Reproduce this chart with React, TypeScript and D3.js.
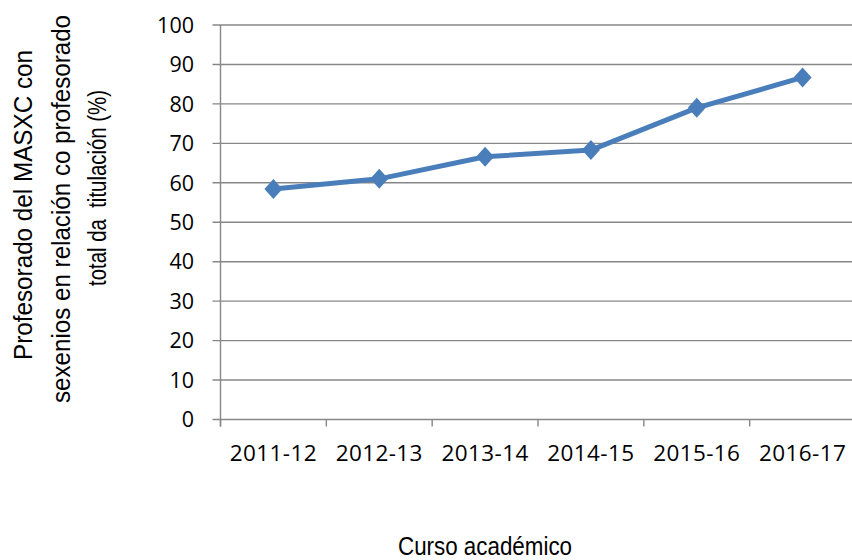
import React from "react";
import * as d3 from "d3";

const categories = ["2011-12", "2012-13", "2013-14", "2014-15", "2015-16", "2016-17"];
const values = [58.4, 61.0, 66.6, 68.3, 79.0, 86.7];
const yTicks = [0, 10, 20, 30, 40, 50, 60, 70, 80, 90, 100];
const yTitleLines = ["Profesorado del MASXC con", "sexenios en relación co profesorado", "total da  titulación (%)"];
const xTitle = "Curso académico";

const W = 852;
const H = 560;
const left = 220.5;
const right = 855.5;
const top = 25;
const bottom = 419.5;

export default function App() {
  const x = d3.scaleBand<string>().domain(categories).range([left, right]);
  const y = d3.scaleLinear().domain([0, 100]).range([bottom, top]);
  const line = d3
    .line<number>()
    .x((_, i) => (x(categories[i]) as number) + x.bandwidth() / 2)
    .y((d) => y(d));
  const blue = "#4A7EBB";
  const grid = "#878787";
  const tickFont = "'Open Sans', sans-serif";
  const titleFont = "'Liberation Sans', Arial, sans-serif";
  const diamond = (cx: number, cy: number) =>
    `M${cx},${cy - 10}L${cx + 9},${cy}L${cx},${cy + 10}L${cx - 9},${cy}Z`;
  const xTickPositions = categories.map((c) => x(c) as number).concat([right]);
  const titlePos = [
    { cx: 23, cy: 205, len: 310 },
    { cx: 61, cy: 209, len: 388 },
    { cx: 97, cy: 188, len: 196 },
  ];
  return (
    <svg
      width={W}
      height={H}
      style={{ position: "absolute", left: 0, top: 0, background: "#fff" }}
    >
      {yTicks.map((t) => (
        <g key={t}>
          <line x1={left - 8} x2={W + 10} y1={y(t)} y2={y(t)} stroke={grid} strokeWidth={1.4} />
          <text
            x={194}
            y={y(t)}
            dy="0.36em"
            textAnchor="end"
            fontFamily={tickFont}
            fontSize={21.5}
            fill="#000"
          >
            {t}
          </text>
        </g>
      ))}
      <line x1={left} x2={left} y1={top} y2={bottom + 7} stroke={grid} strokeWidth={1.4} />
      {xTickPositions.map((p, i) => (
        <line key={i} x1={p} x2={p} y1={bottom} y2={bottom + 7} stroke={grid} strokeWidth={1.4} />
      ))}
      {categories.map((c) => (
        <text
          key={c}
          x={(x(c) as number) + x.bandwidth() / 2}
          y={453}
          dy="0.36em"
          textAnchor="middle"
          fontFamily={tickFont}
          fontSize={22.5}
          letterSpacing={0.4}
          fill="#000"
        >
          {c}
        </text>
      ))}
      <path d={line(values) || ""} fill="none" stroke={blue} strokeWidth={5} strokeLinejoin="round" />
      {values.map((v, i) => (
        <path
          key={i}
          d={diamond((x(categories[i]) as number) + x.bandwidth() / 2, y(v))}
          fill={blue}
        />
      ))}
      {yTitleLines.map((l, i) => (
        <text
          key={i}
          transform={`translate(${titlePos[i].cx},${titlePos[i].cy}) rotate(-90)`}
          textAnchor="middle"
          dy="0.36em"
          fontFamily={titleFont}
          fontSize={26}
          textLength={titlePos[i].len}
          lengthAdjust="spacingAndGlyphs"
          style={{ whiteSpace: "pre" }}
          fill="#000"
        >
          {l}
        </text>
      ))}
      <text
        x={485}
        y={546}
        dy="0.36em"
        textAnchor="middle"
        fontFamily={titleFont}
        fontSize={26}
        textLength={174}
        lengthAdjust="spacingAndGlyphs"
        fill="#000"
      >
        {xTitle}
      </text>
    </svg>
  );
}
